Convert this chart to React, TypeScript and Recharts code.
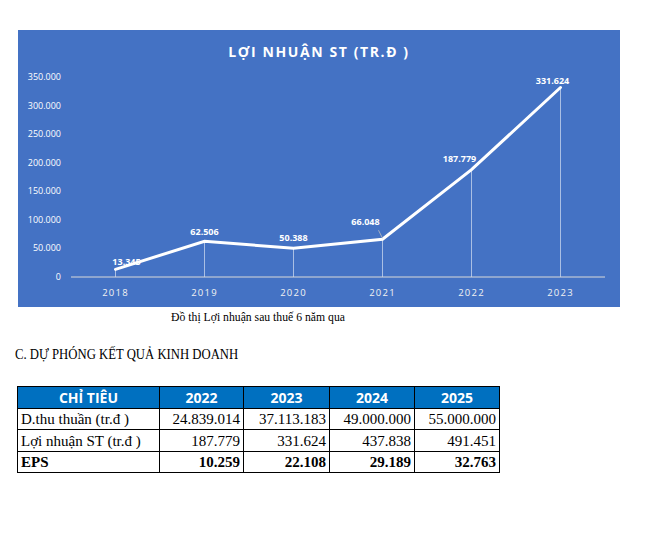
import React from "react";
import { ComposedChart, Line, Bar, XAxis, YAxis, LabelList } from "recharts";

const years = ["2018", "2019", "2020", "2021", "2022", "2023"];
const profit = [13345, 62506, 50388, 66048, 187779, 331624];
const yTicks = [0, 50000, 100000, 150000, 200000, 250000, 300000, 350000];

const tableYears = ["2022", "2023", "2024", "2025"];
const revenue = ["24.839.014", "37.113.183", "49.000.000", "55.000.000"];
const profitST = ["187.779", "331.624", "437.838", "491.451"];
const eps = ["10.259", "22.108", "29.189", "32.763"];

const data = years.map((y, i) => ({ year: y, value: profit[i] }));

const fmt = (v: number) => v.toLocaleString("de-DE");

const labelOffsets = [
  [11, -7],
  [0, -9],
  [0, -10],
  [-17, -17],
  [-12, -11],
  [-8, -7],
];

const SANS = "'Open Sans', 'Noto Sans', sans-serif";
const SERIF = "'Liberation Serif', 'Times New Roman', serif";

const YTick = (props: any) => {
  const { y, payload } = props;
  return (
    <text x={43} y={y} dy={3} fill="#FFFFFF" fontSize={9} fontFamily={SANS} textAnchor="end">
      {fmt(payload.value)}
    </text>
  );
};

const XTick = (props: any) => {
  const { x, y, payload } = props;
  return (
    <text x={x} y={y} dy={11} fill="#F2F2F2" fontSize={9.5} fontFamily={SANS} textAnchor="middle" letterSpacing={1.2}>
      {payload.value}
    </text>
  );
};

const PointLabel = (props: any) => {
  const { x, y, value, index } = props;
  const [dx, dy] = labelOffsets[index] || [0, -8];
  return (
    <g>
      {index === 3 && (
        <line x1={x - 4} y1={y - 9} x2={x} y2={y - 1} stroke="#BFBFBF" strokeWidth={0.8} />
      )}
      <text x={x + dx} y={y + dy} dy={3} fill="#FFFFFF" fontSize={9} fontWeight="bold" fontFamily={SANS} textAnchor="middle">
        {fmt(value)}
      </text>
    </g>
  );
};

const cell: React.CSSProperties = {
  border: "1px solid #000",
  padding: "0 3px",
  fontFamily: SERIF,
  fontSize: 15,
  textAlign: "right",
  lineHeight: "18px",
  whiteSpace: "nowrap",
};

const headCell: React.CSSProperties = {
  border: "1px solid #000",
  background: "#0070C0",
  color: "#FFFFFF",
  fontFamily: SANS,
  fontWeight: "bold",
  fontSize: 14,
  textAlign: "center",
  padding: 0,
};

export default function App() {
  return (
    <div style={{ position: "absolute", left: 0, top: 0, width: 645, height: 551, background: "#fff" }}>
      <div style={{ position: "absolute", left: 18, top: 30, width: 602, height: 277, background: "#4472C4" }}>
        <div
          style={{
            position: "absolute",
            left: 0,
            top: 12,
            width: 602,
            textAlign: "center",
            color: "#FFFFFF",
            fontFamily: SANS,
            fontWeight: "bold",
            fontSize: 14,
            letterSpacing: 1.6,
          }}
        >
          LỢI NHUẬN ST (TR.Đ )
        </div>
        <ComposedChart width={602} height={277} data={data} margin={{ top: 47, right: 15, bottom: 0, left: 0 }}>
          <XAxis
            dataKey="year"
            axisLine={{ stroke: "#D9D9D9", strokeWidth: 1 }}
            tickLine={false}
            height={30}
            tick={<XTick />}
            interval={0}
          />
          <YAxis
            domain={[0, 350000]}
            ticks={yTicks}
            axisLine={false}
            tickLine={false}
            width={53}
            tick={<YTick />}
            interval={0}
          />
          <Bar dataKey="value" barSize={1} fill="rgba(255,255,255,0.55)" isAnimationActive={false} />
          <Line
            type="linear"
            dataKey="value"
            stroke="#FFFFFF"
            strokeWidth={3}
            dot={false}
            strokeLinecap="round"
            isAnimationActive={false}
          >
            <LabelList dataKey="value" content={<PointLabel />} />
          </Line>
        </ComposedChart>
      </div>

      <div
        style={{
          position: "absolute",
          left: 128,
          top: 309,
          width: 260,
          textAlign: "center",
          fontFamily: SERIF,
          fontSize: 13,
          color: "#000",
          transform: "scaleX(0.9)",
          transformOrigin: "center",
          whiteSpace: "nowrap",
        }}
      >
        Đồ thị Lợi nhuận sau thuế 6 năm qua
      </div>

      <div
        style={{
          position: "absolute",
          left: 15,
          top: 345,
          fontFamily: SERIF,
          fontSize: 15.5,
          color: "#000",
          whiteSpace: "nowrap",
          transform: "scaleX(0.82)",
          transformOrigin: "left center",
        }}
      >
        C. DỰ PHÓNG KẾT QUẢ KINH DOANH
      </div>

      <table
        style={{
          position: "absolute",
          left: 17,
          top: 386,
          borderCollapse: "collapse",
          tableLayout: "fixed",
          width: 483,
        }}
      >
        <colgroup>
          <col style={{ width: 142 }} />
          <col style={{ width: 84 }} />
          <col style={{ width: 86 }} />
          <col style={{ width: 85 }} />
          <col style={{ width: 85 }} />
        </colgroup>
        <tbody>
          <tr style={{ height: 22 }}>
            <td style={headCell}>CHỈ TIÊU</td>
            {tableYears.map((y) => (
              <td key={y} style={headCell}>
                {y}
              </td>
            ))}
          </tr>
          <tr style={{ height: 21 }}>
            <td style={{ ...cell, textAlign: "left" }}>D.thu thuần (tr.đ )</td>
            {revenue.map((v, i) => (
              <td key={i} style={cell}>
                {v}
              </td>
            ))}
          </tr>
          <tr style={{ height: 22 }}>
            <td style={{ ...cell, textAlign: "left" }}>Lợi nhuận ST (tr.đ )</td>
            {profitST.map((v, i) => (
              <td key={i} style={cell}>
                {v}
              </td>
            ))}
          </tr>
          <tr style={{ height: 21 }}>
            <td style={{ ...cell, textAlign: "left", fontWeight: "bold" }}>EPS</td>
            {eps.map((v, i) => (
              <td key={i} style={{ ...cell, fontWeight: "bold" }}>
                {v}
              </td>
            ))}
          </tr>
        </tbody>
      </table>
    </div>
  );
}
